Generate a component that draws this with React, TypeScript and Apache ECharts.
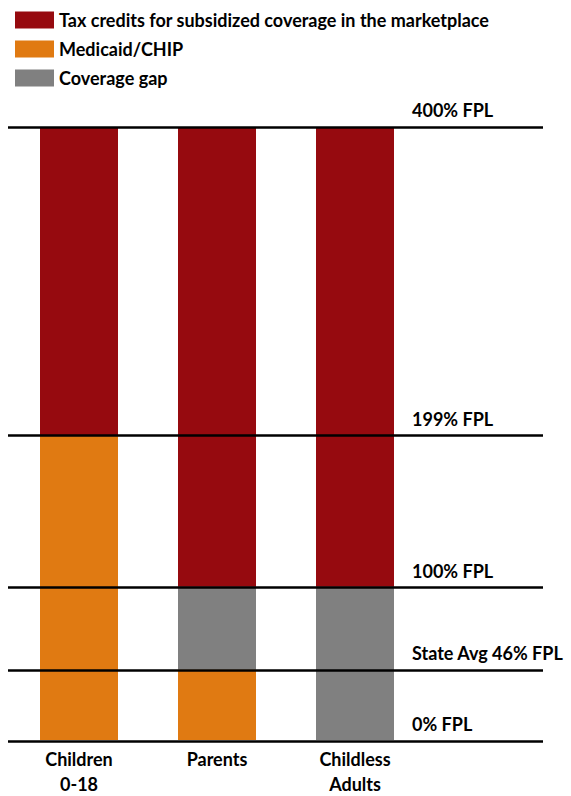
import React, { useEffect, useRef } from "react";
import * as echarts from "echarts";

const categories = ["Children\n0-18", "Parents", "Childless\nAdults"];
const medicaid = [199, 46, 0];
const gap = [0, 54, 100];
const taxCredits = [201, 300, 300];
const thresholds = [400, 199, 100, 46, 0];
const thresholdLabels = ["400% FPL", "199% FPL", "100% FPL", "State Avg 46% FPL", "0% FPL"];

const FONT = "Lato, 'Open Sans', sans-serif";

export default function App() {
  const ref = useRef<HTMLDivElement>(null);
  useEffect(() => {
    if (!ref.current) return;
    const chart = echarts.init(ref.current, undefined, { renderer: "svg" });
    const option: any = {
      animation: false,
      textStyle: { fontFamily: FONT },
      legend: {
        orient: "vertical",
        left: 10,
        top: 6,
        itemWidth: 39,
        itemHeight: 17,
        itemGap: 11,
        icon: "rect",
        data: ["Tax credits for subsidized coverage in the marketplace", "Medicaid/CHIP", "Coverage gap"],
        textStyle: { fontFamily: FONT, fontSize: 18, fontWeight: "bold", color: "#000" },
      },
      grid: [
        { left: 10, width: 414, top: 127, bottom: 55 },
        { left: 8, width: 535, top: 127, bottom: 55 },
      ],
      xAxis: [
        {
          type: "category",
          gridIndex: 0,
          data: categories,
          axisLine: { show: false },
          axisTick: { show: false },
          axisLabel: {
            margin: 6,
            fontFamily: FONT,
            fontSize: 18,
            fontWeight: "bold",
            color: "#000",
            lineHeight: 25,
          },
        },
        { type: "value", gridIndex: 1, min: 0, max: 1, show: false },
      ],
      yAxis: [
        { type: "value", gridIndex: 0, min: 0, max: 400, show: false },
        { type: "value", gridIndex: 1, min: 0, max: 400, show: false },
      ],
      series: [
        {
          name: "Medicaid/CHIP",
          type: "bar",
          stack: "fpl",
          barWidth: 78,
          data: medicaid,
          itemStyle: { color: "#E07A12" },
        },
        {
          name: "Coverage gap",
          type: "bar",
          stack: "fpl",
          barWidth: 78,
          data: gap,
          itemStyle: { color: "#808080" },
        },
        {
          name: "Tax credits for subsidized coverage in the marketplace",
          type: "bar",
          stack: "fpl",
          barWidth: 78,
          data: taxCredits,
          itemStyle: { color: "#960A0F" },
        },
        {
          name: "thresholds",
          type: "line",
          xAxisIndex: 1,
          yAxisIndex: 1,
          z: 10,
          data: [],
          markLine: {
            silent: true,
            symbol: "none",
            lineStyle: { color: "#000", width: 2.5, type: "solid" },
            label: {
              show: true,
              position: "insideStartTop",
              distance: 8,
              padding: [0, 0, 0, 396],
              fontFamily: FONT,
              fontSize: 18,
              fontWeight: "bold",
              color: "#000",
            },
            data: thresholds.map((v, i) => ({
              yAxis: v,
              label: { formatter: thresholdLabels[i] },
            })),
          },
        },
      ],
    };
    chart.setOption(option);
    return () => chart.dispose();
  }, []);
  return (
    <div
      ref={ref}
      style={{ position: "absolute", left: 0, top: 0, width: 571, height: 796 }}
    />
  );
}
